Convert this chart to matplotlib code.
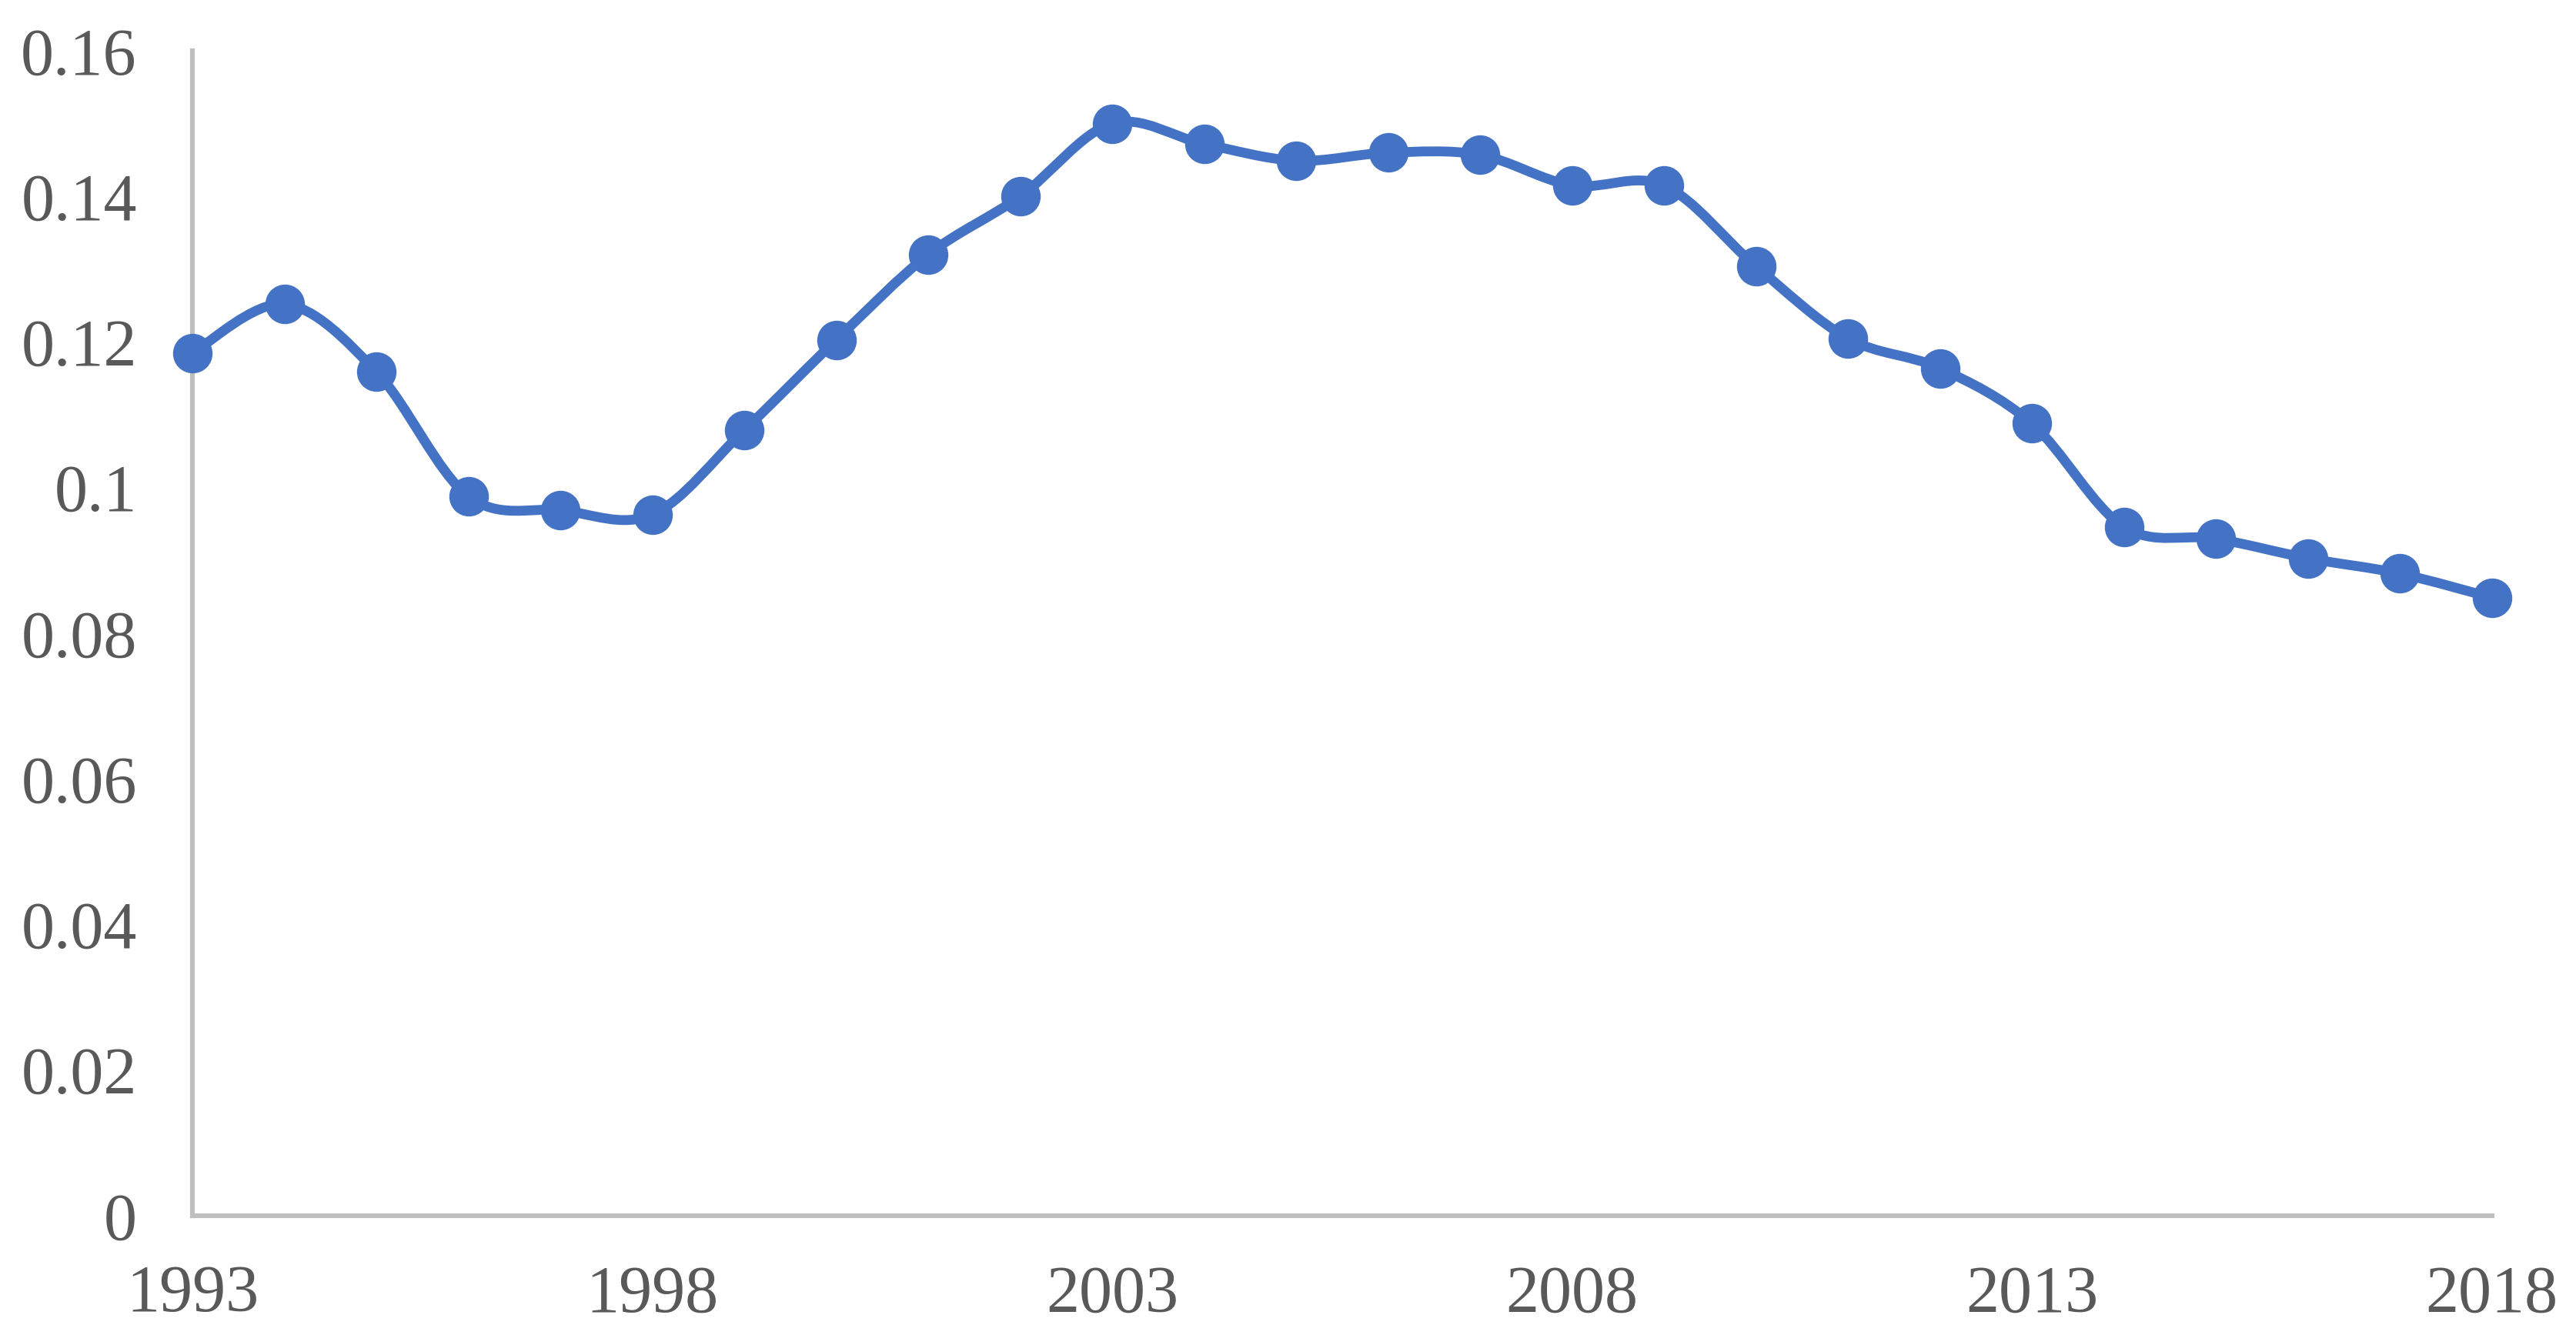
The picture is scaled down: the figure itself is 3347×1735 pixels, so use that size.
" smoothed yearly series, excel style "
import numpy as np
import matplotlib
matplotlib.use("Agg")
import matplotlib.pyplot as plt
from matplotlib.path import Path
from matplotlib.patches import PathPatch

plt.rcParams.update({"font.family": "Liberation Serif", "font.size": 31})

years = list(range(1993, 2019))
values = [0.1185, 0.1252, 0.1159, 0.0988, 0.0969, 0.0963, 0.1079, 0.1203,
          0.1320, 0.1400, 0.1500, 0.1472, 0.1449, 0.1460, 0.1457, 0.1415,
          0.1415, 0.1304, 0.1205, 0.1164, 0.1088, 0.0946, 0.0930, 0.0903,
          0.0882, 0.0849]
xticks = [1993, 1998, 2003, 2008, 2013, 2018]
yticks = [0, 0.02, 0.04, 0.06, 0.08, 0.1, 0.12, 0.14, 0.16]

BLUE = "#4472C4"
GREY = "#BFBFBF"
TXT = "#595959"


def smooth_path(x, y):
    " catmull-rom style bezier through the points, like excel's smoothed line "
    x = np.asarray(x, float)
    y = np.asarray(y, float)
    n = len(x)
    verts = [(x[0], y[0])]
    codes = [Path.MOVETO]
    for i in range(n - 1):
        i0 = max(i - 1, 0)
        i3 = min(i + 2, n - 1)
        c1 = (x[i] + (x[i + 1] - x[i0]) / 6, y[i] + (y[i + 1] - y[i0]) / 6)
        c2 = (x[i + 1] - (x[i3] - x[i]) / 6, y[i + 1] - (y[i3] - y[i]) / 6)
        verts += [c1, c2, (x[i + 1], y[i + 1])]
        codes += [Path.CURVE4] * 3
    return Path(verts, codes)


fig = plt.figure(figsize=(16.74, 8.675), dpi=200)
ax = fig.add_axes([0.0747, 0.0893, 0.8923, 0.8727])

ax.add_patch(PathPatch(smooth_path(years, values), facecolor="none",
                       edgecolor=BLUE, lw=4.6, capstyle="round",
                       joinstyle="round", zorder=2))
ax.plot(years, values, ls="none", marker="o", ms=17.5, color=BLUE,
        zorder=3, clip_on=False)

ax.set_xlim(1993, 2018)
ax.set_ylim(0, 0.16)
ax.set_xticks(xticks)
ax.set_yticks(yticks)
ax.set_yticklabels(["%g" % v for v in yticks])
ax.tick_params(length=0, colors=TXT, labelsize=31)
ax.tick_params(axis="y", pad=26)
ax.tick_params(axis="x", pad=23)
for s in ["top", "right"]:
    ax.spines[s].set_visible(False)
for s in ["left", "bottom"]:
    ax.spines[s].set_color(GREY)
    ax.spines[s].set_linewidth(2.2)

fig.savefig("out.png", dpi=200)
